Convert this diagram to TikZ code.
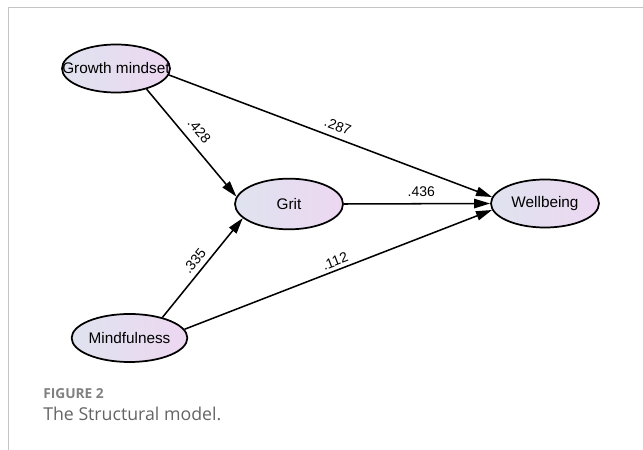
\documentclass[tikz,border=0pt]{standalone}
\usepackage{fontspec}
\setmainfont{Liberation Sans}
\newfontfamily\capfont{Open Sans}
\usetikzlibrary{arrows.meta,shapes.geometric}

\definecolor{latentleft}{RGB}{223,227,239}
\definecolor{latentright}{RGB}{237,215,241}
\definecolor{framegray}{RGB}{196,196,196}
\definecolor{capgray}{RGB}{128,128,128}
\definecolor{textgray}{RGB}{100,100,100}

\tikzset{
  latent/.style={ellipse, draw=black, line width=1.3pt, inner sep=0pt,
    minimum width=81pt, minimum height=36pt,
    left color=latentleft, right color=latentright,
    font=\fontsize{11.5}{13}\selectfont},
  regpath/.style={line width=1.15pt, -{Triangle[length=12pt,width=7pt]}},
  coef/.style={sloped, inner sep=1.5pt, font=\fontsize{10.5}{12}\selectfont}
}

\begin{document}
\begin{tikzpicture}[x=0.75pt,y=0.75pt]
\useasboundingbox (0,0) rectangle (643,450);

%Shape: Frame
\draw [framegray, line width=1.1pt] (643,442.5) -- (8.5,442.5) -- (8.5,0) ;

%Shape: Ellipse [id:growth]
\node [latent] (growth) at (116,381.5) {\makebox[0pt]{Growth mindset}};
%Shape: Ellipse [id:grit]
\node [latent, minimum height=38pt] (grit) at (289,246) {Grit};
%Shape: Ellipse [id:wellbeing]
\node [latent] (wellbeing) at (545,246.5) {Wellbeing};
%Shape: Ellipse [id:mindful]
\node [latent] (mindful) at (129.5,112) {Mindfulness};

%Straight Lines
\draw [regpath] (growth.-34) -- node [coef, above=4.5pt, pos=0.47] {.428} (grit.172) ;
\draw [regpath] (growth.-7) -- node [coef, above=3pt, pos=0.51] {.287} (wellbeing.173) ;
\draw [regpath] (grit.east) -- node [coef, above=3pt, pos=0.53] {.436} (wellbeing.west) ;
\draw [regpath] (mindful.32) -- node [coef, above=2pt, pos=0.5] {.335} (grit.197) ;
\draw [regpath] (mindful.9) -- node [coef, above=1pt, pos=0.5] {.112} (wellbeing.187) ;

% Text Node
\node [anchor=base west, text=capgray, font=\capfont\bfseries\fontsize{10.3}{12}\selectfont, inner sep=0pt] (figno) at (43,51) {FIGURE 2};
% Text Node
\node [anchor=base west, text=textgray, font=\capfont\fontsize{13.3}{15}\selectfont, inner sep=0pt] (figcap) at (43,29) {The Structural model.};

\end{tikzpicture}
\end{document}
